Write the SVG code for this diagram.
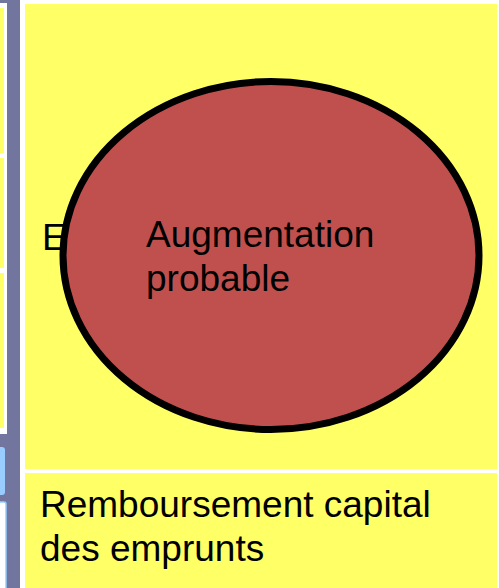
<svg xmlns="http://www.w3.org/2000/svg" width="499" height="588" viewBox="0 0 499 588">
<style>
.t{font-family:"Liberation Sans",Arial,sans-serif;font-size:37px;fill:#000}
.y{fill:#FFFF66}
</style>
<rect x="0" y="0" width="499" height="588" fill="#FFFFFF"/>
<g id="sidebar">
<rect x="0" y="0" width="20" height="588" fill="#72769E"/>
<rect x="0" y="3" width="7" height="431" fill="#FFFFFF"/>
<rect x="0" y="8" width="4" height="145" class="y"/>
<rect x="0" y="158" width="4" height="110" class="y"/>
<rect x="0" y="273" width="4" height="155" class="y"/>
<rect x="-6" y="447" width="11" height="48" rx="3" fill="#99CCFF"/>
<rect x="-3" y="502" width="9" height="90" rx="2" fill="#FFFFFF" stroke="#99CCFF" stroke-width="1.5"/>
<rect x="20" y="0" width="5" height="588" fill="#FFFFFF"/>
</g>
<g id="box-top">
<rect x="25" y="4" width="472" height="465" class="y"/>
<text class="t" x="42" y="250">E</text>
</g>
<g id="box-bottom">
<rect x="25" y="473" width="472" height="115" class="y"/>
<text class="t" x="40" y="517">Remboursement capital</text>
<text class="t" x="40" y="561">des emprunts</text>
</g>
<g id="augmentation">
<ellipse cx="271" cy="255.5" rx="208" ry="174" fill="#C0504D" stroke="#000" stroke-width="7"/>
<text class="t" x="146" y="247">Augmentation</text>
<text class="t" x="146" y="291">probable</text>
</g>
<g id="connectors"/>
</svg>
